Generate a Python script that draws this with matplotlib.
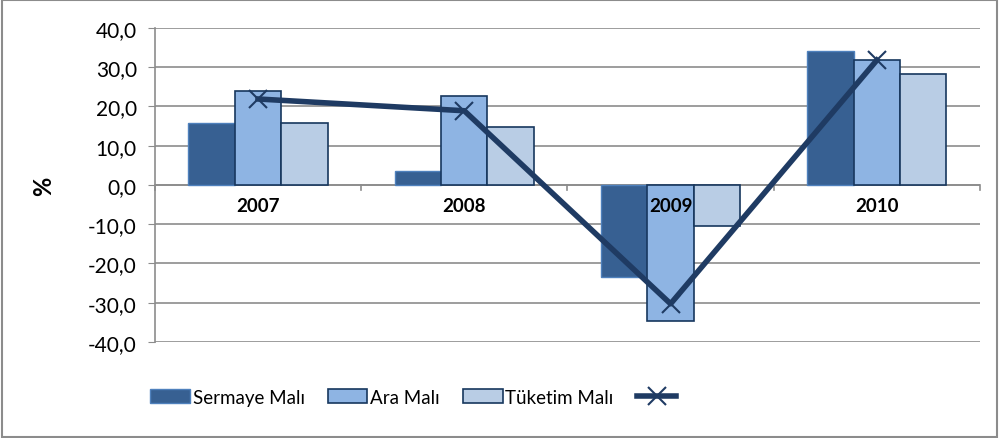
import numpy as np
import matplotlib.pyplot as plt
from matplotlib.patches import Patch
from matplotlib.lines import Line2D

plt.rcParams['font.family'] = ['Lato', 'DejaVu Sans']

years = ["2007", "2008", "2009", "2010"]
sermaye = [15.8, 3.6, -23.4, 34.2]
ara = [24.0, 22.7, -34.8, 31.9]
tuketim = [15.8, 14.8, -10.4, 28.3]
toplam = [21.9, 18.9, -30.3, 31.8]
yticks = [40, 30, 20, 10, 0, -10, -20, -30, -40]

c_serm = "#376092"
c_ara = "#8EB4E3"
c_tuk = "#B9CDE5"
c_edge = "#17375E"
c_line = "#1F3B63"

fig = plt.figure(figsize=(9.99, 4.39), dpi=100)
ax = fig.add_axes([0.155, 0.219, 0.826, 0.715])

x = np.arange(len(years))
w = 0.225
ax.bar(x - w, sermaye, w, color=c_serm, edgecolor="#4F81BD", linewidth=1, zorder=2)
ax.bar(x, ara, w, color=c_ara, edgecolor=c_edge, linewidth=1.2, zorder=2)
ax.bar(x + w, tuketim, w, color=c_tuk, edgecolor=c_edge, linewidth=1.2, zorder=2)
ax.plot(x, toplam, color=c_line, linewidth=4, marker="x", markersize=13,
        markeredgewidth=1.5, zorder=4)

ax.set_xlim(-0.5, 3.5)
ax.set_ylim(-40, 40)
ax.set_yticks(yticks)
ax.set_yticklabels([("%.1f" % v).replace(".", ",") for v in yticks], fontsize=15)
ax.yaxis.grid(True, color="#8C8C8C", linewidth=1.2, zorder=0)
ax.set_axisbelow(True)
ax.tick_params(axis="y", length=5, color="#8C8C8C", pad=8)
ax.set_xticks([])
for s in ["top", "right", "bottom"]:
    ax.spines[s].set_visible(False)
ax.spines["left"].set_color("#8C8C8C")
ax.spines["left"].set_linewidth(1.2)

# zero axis with category tick marks
ax.axhline(0, color="#8C8C8C", linewidth=1.2, zorder=1)
for b in np.arange(-0.5, 4.0, 1.0):
    ax.plot([b, b], [0, -1.3], color="#8C8C8C", linewidth=1.2, zorder=1, clip_on=False)
for i, yr in enumerate(years):
    ax.text(i, -3.0, yr, ha="center", va="top", fontsize=13.5, fontweight="bold", zorder=5)

ax.set_ylabel("%", fontsize=17, fontweight="bold", labelpad=24)

handles = [
    Patch(facecolor=c_serm, edgecolor="#4F81BD"),
    Patch(facecolor=c_ara, edgecolor=c_edge, linewidth=1.2),
    Patch(facecolor=c_tuk, edgecolor=c_edge, linewidth=1.2),
    Line2D([], [], color=c_line, linewidth=4, marker="x", markersize=13, markeredgewidth=1.5),
]
fig.legend(handles, ["Sermaye Malı", "Ara Malı", "Tüketim Malı", ""],
           loc="center left", bbox_to_anchor=(0.143, 0.093), ncol=4, frameon=False,
           fontsize=13.5, handlelength=2.1, handleheight=0.8, handletextpad=0.15,
           columnspacing=1.25, borderaxespad=0)

fig.patches.append(plt.Rectangle((0.002, 0.003), 0.996, 0.994, transform=fig.transFigure,
                                 fill=False, edgecolor="#8C8C8C", linewidth=1.5))

fig.savefig("out.png", dpi=100)
